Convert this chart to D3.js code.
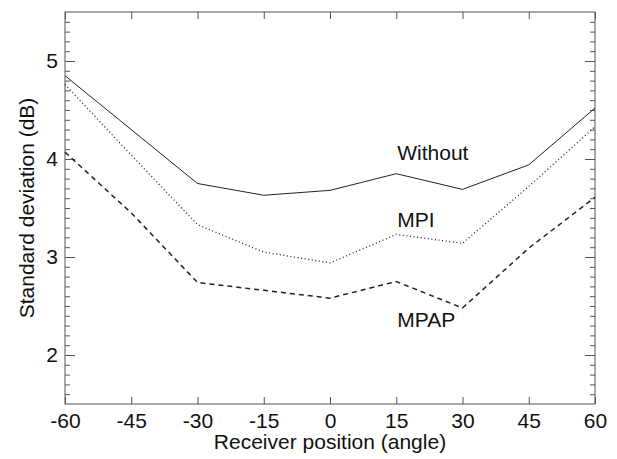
<!DOCTYPE html>
<html>
<head>
<meta charset="utf-8">
<script src="https://cdn.jsdelivr.net/npm/d3@7"></script>
<style>
  body { margin: 0; background: #fff; }
  svg { display: block; font-family: "Liberation Sans", Arial, sans-serif; }
  .frame { fill: none; stroke: #555; stroke-width: 1; }
  .axis path { display: none; }
  .axis line { stroke: #555; }
  .axis text { font-size: 21px; fill: #111; }
  .series { fill: none; stroke: #222; }
</style>
</head>
<body>
<script>
'use strict';
// 데이터
const angles = [-60, -45, -30, -15, 0, 15, 30, 45, 60];
const without = [4.85, 4.30, 3.75, 3.63, 3.68, 3.85, 3.69, 3.94, 4.52];
const mpi = [4.76, 4.04, 3.33, 3.05, 2.94, 3.23, 3.14, 3.72, 4.33];
const mpap = [4.07, 3.45, 2.74, 2.66, 2.58, 2.75, 2.48, 3.09, 3.61];
const seriesNames = ['Without', 'MPI', 'MPAP'];
const xTicks = [-60, -45, -30, -15, 0, 15, 30, 45, 60];
const yTicks = [2, 3, 4, 5];

const W = 617, H = 459;
const margin = {top: 12, right: 22, bottom: 55, left: 65};
const w = W - margin.left - margin.right;
const h = H - margin.top - margin.bottom;

const svg = d3.select(document.body).append('svg')
  .attr('width', W).attr('height', H);
const g = svg.append('g')
  .attr('transform', `translate(${margin.left},${margin.top})`);

const x = d3.scaleLinear().domain([-60, 60]).range([0, w]);
const y = d3.scaleLinear().domain([1.5, 5.5]).range([h, 0]);

// 눈금 (안쪽으로), 하이픈 마이너스 그대로
const plain = d => String(d);
const minorY = d3.range(16, 55).map(d => d / 10).filter(d => !yTicks.includes(d));

g.append('g').attr('class', 'axis')
  .attr('transform', `translate(0,${h})`)
  .call(d3.axisBottom(x).tickValues(xTicks).tickSize(-7).tickPadding(9).tickFormat(plain));
g.append('g').attr('class', 'axis')
  .call(d3.axisTop(x).tickValues(xTicks).tickSize(-7).tickFormat(''));
g.append('g').attr('class', 'axis')
  .call(d3.axisLeft(y).tickValues(yTicks).tickSize(-10).tickPadding(7).tickFormat(plain));
g.append('g').attr('class', 'axis')
  .call(d3.axisLeft(y).tickValues(minorY).tickSize(-5).tickFormat(''));
g.append('g').attr('class', 'axis')
  .attr('transform', `translate(${w},0)`)
  .call(d3.axisRight(y).tickValues(yTicks).tickSize(-10).tickFormat(''));
g.append('g').attr('class', 'axis')
  .attr('transform', `translate(${w},0)`)
  .call(d3.axisRight(y).tickValues(minorY).tickSize(-5).tickFormat(''));

g.append('rect').attr('class', 'frame')
  .attr('width', w).attr('height', h);

// 선
const line = d3.line().x((d, i) => x(angles[i])).y(d => y(d));
const styles = [
  {data: without, dash: null, width: 1},
  {data: mpi, dash: '1,2.6', width: 1.3},
  {data: mpap, dash: '5,4', width: 1.5}
];
styles.forEach(s => {
  g.append('path').attr('class', 'series')
    .attr('d', line(s.data))
    .attr('stroke-width', s.width)
    .attr('stroke-dasharray', s.dash);
});

// 라벨
const labelAt = [[15, 3.99], [15, 3.31], [15, 2.29]];
seriesNames.forEach((name, i) => {
  g.append('text')
    .attr('x', x(labelAt[i][0]) + 1)
    .attr('y', y(labelAt[i][1]))
    .attr('font-size', 21)
    .attr('fill', '#111')
    .text(name);
});

svg.append('text')
  .attr('x', margin.left + w / 2).attr('y', 449)
  .attr('text-anchor', 'middle').attr('font-size', 21).attr('fill', '#111')
  .text('Receiver position (angle)');

svg.append('text')
  .attr('transform', `translate(34,${margin.top + h / 2}) rotate(-90)`)
  .attr('text-anchor', 'middle').attr('font-size', 21).attr('fill', '#111')
  .text('Standard deviation (dB)');
</script>
</body>
</html>
